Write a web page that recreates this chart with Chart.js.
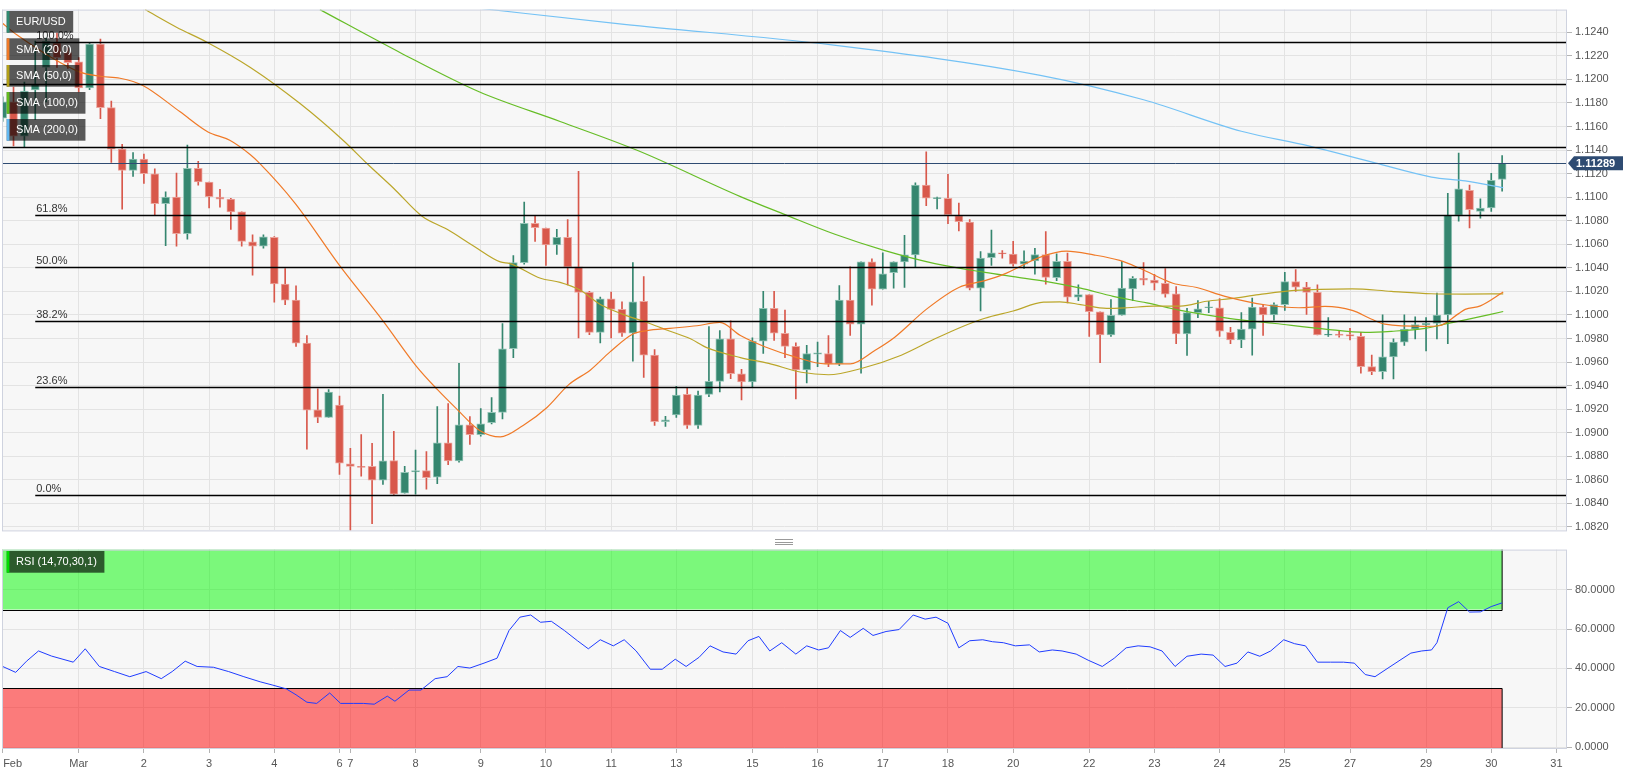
<!DOCTYPE html>
<html>
<head>
<meta charset="utf-8">
<script src="https://cdn.jsdelivr.net/npm/chart.js@4.4.0/dist/chart.umd.min.js"></script>
<style>
    html, body { margin: 0; padding: 0; background: #fff; }
    #wrap { position: relative; width: 1630px; height: 780px; overflow: hidden; }
    #main { position: absolute; left: 0; top: 0; }
    #rsi { position: absolute; left: 0; top: 540px; }
    .handle { position: absolute; left: 775px; top: 539px; width: 18px; height: 4px; border-top: 1px solid #9a9a9a; border-bottom: 1px solid #9a9a9a; }
    .handle::after { content: ''; position: absolute; left: 0; right: 0; top: 1.5px; border-top: 1px solid #9a9a9a; }
</style>
</head>
<body>
<div id="wrap">
    <canvas id="main" width="1630" height="540"></canvas>
    <div class="handle"></div>
    <canvas id="rsi" width="1630" height="240"></canvas>
</div>
<script>
// EUR/USD 4H candles (index 0 = Feb 27 Sunday candle)
const opens  = [1.11671,1.11810,1.11518,1.11910,1.12102,1.12310,1.12227,1.12149,1.11927,1.12301,1.11760,1.11408,1.11227,1.11324,1.11199,1.10944,1.11000,1.10691,1.11246,1.11129,1.11000,1.10983,1.10875,1.10621,1.10583,1.10658,1.10261,1.10125,1.09761,1.09194,1.09130,1.09234,1.08736,1.08714,1.08714,1.08597,1.08764,1.08486,1.08667,1.08678,1.08622,1.08914,1.08761,1.09067,1.08984,1.09084,1.09172,1.09713,1.10444,1.10777,1.10738,1.10594,1.10658,1.10408,1.10191,1.09852,1.10136,1.10047,1.09844,1.10116,1.09658,1.09094,1.09150,1.09325,1.09061,1.09325,1.09436,1.09797,1.09500,1.09430,1.09777,1.10055,1.09844,1.09733,1.09533,1.09667,1.09672,1.09583,1.10125,1.09922,1.10450,1.10219,1.10358,1.10450,1.10510,1.11102,1.10988,1.10991,1.10844,1.10788,1.10227,1.10486,1.10527,1.10516,1.10430,1.10458,1.10513,1.10316,1.10455,1.10150,1.10172,1.10027,1.09830,1.09997,1.10221,1.10311,1.10296,1.10269,1.10180,1.09838,1.10019,1.10061,1.10061,1.09852,1.09788,1.09880,1.10066,1.09999,1.10088,1.10283,1.10236,1.10191,1.09827,1.09838,1.09833,1.09819,1.09561,1.09519,1.09644,1.09769,1.09880,1.09917,1.09928,1.09999,1.10846,1.11058,1.10879,1.10908,1.11150];
const highs  = [1.11852,1.11935,1.11977,1.12326,1.12351,1.12393,1.12268,1.12185,1.12310,1.12343,1.11816,1.11449,1.11379,1.11366,1.11241,1.11046,1.11204,1.11443,1.11304,1.11129,1.11066,1.10991,1.10875,1.10680,1.10680,1.10666,1.10394,1.10247,1.09825,1.09372,1.09367,1.09311,1.08867,1.08984,1.08909,1.09325,1.09011,1.08714,1.08853,1.08839,1.09222,1.09247,1.09588,1.09136,1.09205,1.09297,1.09927,1.10505,1.10958,1.10844,1.10738,1.10727,1.10810,1.11219,1.10200,1.10152,1.10194,1.10111,1.10444,1.10325,1.09705,1.09139,1.09394,1.09380,1.09353,1.09900,1.09867,1.09950,1.09538,1.09805,1.10200,1.10200,1.10041,1.09763,1.09742,1.09769,1.09825,1.10250,1.10408,1.10450,1.10477,1.10527,1.10450,1.10677,1.11121,1.11385,1.11000,1.11194,1.10950,1.10810,1.10538,1.10721,1.10546,1.10625,1.10544,1.10566,1.10708,1.10519,1.10525,1.10255,1.10172,1.10027,1.10130,1.10455,1.10325,1.10444,1.10344,1.10394,1.10241,1.10055,1.10122,1.10116,1.10138,1.09894,1.10019,1.10144,1.10088,1.10102,1.10361,1.10386,1.10277,1.10255,1.09977,1.09861,1.09886,1.09852,1.09658,1.10000,1.09797,1.10000,1.09983,1.09977,1.10186,1.11033,1.11374,1.11102,1.10985,1.11202,1.11354];
const lows   = [1.11643,1.11435,1.11427,1.11660,1.11810,1.12102,1.12093,1.11893,1.11912,1.11666,1.11296,1.10899,1.11177,1.11116,1.10844,1.10588,1.10583,1.10644,1.11102,1.10908,1.10916,1.10727,1.10583,1.10338,1.10566,1.10108,1.10088,1.09733,1.08859,1.09084,1.09130,1.08645,1.08150,1.08630,1.08228,1.08561,1.08464,1.08486,1.08478,1.08520,1.08567,1.08728,1.08750,1.08900,1.08970,1.09075,1.09117,1.09638,1.10430,1.10625,1.10421,1.10513,1.10255,1.09805,1.09833,1.09763,1.09805,1.09817,1.09608,1.09469,1.09061,1.09053,1.09130,1.09036,1.09036,1.09305,1.09347,1.09459,1.09278,1.09386,1.09672,1.09783,1.09636,1.09286,1.09422,1.09561,1.09561,1.09570,1.09825,1.09505,1.10083,1.10219,1.10227,1.10233,1.10408,1.10927,1.10900,1.10775,1.10713,1.10213,1.10033,1.10421,1.10483,1.10413,1.10394,1.10346,1.10261,1.10291,1.10102,1.10122,1.09817,1.09594,1.09817,1.09997,1.10122,1.10255,1.10213,1.10150,1.09755,1.09656,1.09977,1.10019,1.09817,1.09755,1.09722,1.09658,1.09825,1.09955,1.10038,1.10200,1.10005,1.09830,1.09817,1.09811,1.09788,1.09505,1.09492,1.09457,1.09457,1.09742,1.09797,1.09694,1.09797,1.09755,1.10796,1.10738,1.10821,1.10879,1.11052];
const closes = [1.11810,1.11518,1.11902,1.11960,1.12326,1.12185,1.12143,1.11927,1.12301,1.11760,1.11408,1.11227,1.11324,1.11199,1.10944,1.11000,1.10691,1.11246,1.11129,1.11005,1.10983,1.10875,1.10625,1.10583,1.10663,1.10263,1.10125,1.09761,1.09192,1.09130,1.09344,1.08742,1.08714,1.08705,1.08597,1.08761,1.08478,1.08664,1.08678,1.08617,1.08914,1.08761,1.09067,1.08984,1.09075,1.09172,1.09713,1.10444,1.10777,1.10741,1.10594,1.10658,1.10408,1.10191,1.09852,1.10136,1.10047,1.09844,1.10111,1.09658,1.09094,1.09109,1.09319,1.09061,1.09319,1.09436,1.09797,1.09500,1.09430,1.09777,1.10055,1.09844,1.09733,1.09533,1.09672,1.09678,1.09583,1.10125,1.09922,1.10450,1.10219,1.10350,1.10450,1.10510,1.11102,1.10991,1.10996,1.10852,1.10791,1.10227,1.10483,1.10527,1.10519,1.10430,1.10458,1.10513,1.10319,1.10455,1.10150,1.10172,1.10027,1.09830,1.09997,1.10227,1.10311,1.10296,1.10269,1.10177,1.09838,1.10019,1.10052,1.10069,1.09861,1.09788,1.09880,1.10066,1.09999,1.10088,1.10283,1.10236,1.10191,1.09830,1.09838,1.09825,1.09819,1.09561,1.09519,1.09644,1.09769,1.09880,1.09917,1.09928,1.09999,1.10846,1.11071,1.10894,1.10908,1.11144,1.11289];

// moving averages, read at line vertices (x = candle index)
const sma20X  = [-0.2,1.3,7,9,10.8,12.9,16.3,18.9,20.9,22.8,23.7,26.9,31,35,38.1,40,41.8,43.9,45.8,47.9,50.1,52.1,54.1,55.9,58,59.3,61.4,63.9,66,67.9,70.2,72.9,75.7,78,80.3,82.1,85,88,90.4,92.1,95.5,97.9,100.4,102.8,104.7,107.7,109.9,112.5,116.3,119.3,121.7,124.2,126,127.2,130.9,132.2,134,134.6,136,138.1];
const sma20Y  = [1.12491,1.12379,1.12066,1.12027,1.12010,1.11949,1.11727,1.11554,1.11483,1.11360,1.11283,1.10950,1.10421,1.09950,1.09561,1.09367,1.09200,1.09019,1.08964,1.09061,1.09214,1.09408,1.09533,1.09686,1.09838,1.09867,1.09886,1.09908,1.09936,1.09825,1.09728,1.09644,1.09584,1.09584,1.09700,1.09811,1.10047,1.10233,1.10291,1.10344,1.10491,1.10541,1.10510,1.10463,1.10394,1.10269,1.10233,1.10158,1.10084,1.10061,1.10072,1.10038,1.09963,1.09922,1.09903,1.09908,1.10011,1.10047,1.10077,1.10194];
const sma50X  = [13.1,16,18.8,22.8,27.4,31.4,33.5,36,38.6,40.9,43.3,45.8,46.7,49.5,51.3,53.1,55,57.1,59.3,61.1,63.3,64.8,67.9,70.5,73.5,76,79.1,82.7,85.8,88.3,90.4,93,95.8,97.3,99.2,101.6,103.5,105.9,108.4,110.8,113,115.6,118.9,124.2,127.8,131.5,134.6,138.1];
const sma50Y  = [1.12593,1.12443,1.12316,1.12102,1.11793,1.11477,1.11288,1.11074,1.10838,1.10727,1.10588,1.10450,1.10436,1.10311,1.10277,1.10213,1.10088,1.10005,1.09936,1.09872,1.09797,1.09722,1.09638,1.09588,1.09513,1.09492,1.09547,1.09658,1.09797,1.09900,1.09972,1.10033,1.10108,1.10111,1.10088,1.10055,1.10061,1.10075,1.10075,1.10116,1.10138,1.10172,1.10208,1.10222,1.10200,1.10180,1.10177,1.10179];
const sma100X = [29.2,36.6,43.9,51.3,58.5,67.9,72,76.6,81.2,85.8,90.4,93,96.1,99.2,102.2,105.3,108.4,113,117.1,121.7,125.4,127.8,130.9,132.7,134.6,138.1];
const sma100Y = [1.12593,1.12227,1.11893,1.11643,1.11394,1.11005,1.10852,1.10685,1.10546,1.10436,1.10361,1.10325,1.10283,1.10227,1.10158,1.10102,1.10038,1.09969,1.09927,1.09880,1.09852,1.09861,1.09886,1.09922,1.09958,1.10029];
const sma200X = [43.3,57.2,76.3,95.5,105,114,120.2,126.3,131.5,134.6,138.1];
const sma200Y = [1.12610,1.12468,1.12293,1.12035,1.11827,1.11560,1.11435,1.11291,1.11171,1.11138,1.11081];

// RSI (14) read at line vertices
const rsiX = [0,1.2,2.2,3.3,4.5,6.5,7.6,8.9,10.3,11.7,13.2,14.6,15.6,16.8,17.9,19.4,20.8,22.2,23.7,24.8,26.1,27,28,28.9,30.1,31.1,32.3,33.2,34.2,35.4,36.1,37.4,38.5,39.8,40.9,41.9,43,44.3,45.5,46.6,47.6,48.6,49.5,50.5,51.7,52.9,53.9,55,56.2,57.2,58.3,59.6,60.7,61.9,62.9,64.1,65.1,66.3,67.5,68.6,69.6,70.6,71.7,73,74,75.1,76,77.1,78,79.2,80.1,81.3,82.5,83.8,84.9,85.9,87,88,89,90.2,91.1,92.1,93.2,94.5,95.4,96.6,97.5,98.8,99.9,101.2,102.3,103.4,104.5,105.6,106.7,107.9,109,110.3,111.4,112.5,113.6,114.6,115.7,116.7,117.9,118.9,119.9,121,122.2,123.4,124.4,125.4,126.3,127.5,128.6,129.6,130.6,131.5,132,133,134,135,136,137,138];
const rsiY = [41,38,43.7,48.9,46.3,43.2,50,41,38.4,35.8,38.4,34.8,38.4,43.7,41,40.6,38.4,35.8,33.2,31.6,29.6,26.6,22.8,22.2,27.5,22.2,22.2,22.2,21.8,25.9,23.3,29,29,34.8,35.8,41,40.2,42.7,45.2,59.3,66.1,67.2,63.5,64,59.3,54.1,50,54.6,51.5,54.6,48.9,39.6,39.6,44.7,41,45.7,51.5,48.4,47.3,54.1,56.3,48.9,53.1,47.3,51.5,49.4,50.5,59.3,55.8,60.4,56.8,58.8,59.8,67.2,65.1,66.1,63,50.5,54.1,54.6,53.6,53.1,51.5,52,48.4,49.4,48.9,47.3,44.2,41,45.2,50.5,51.5,51,48.9,41,46.2,47.3,46.8,41,42.7,48.4,46.2,48.9,54.6,52.6,51.5,43.2,43.2,43.2,42.7,36.9,35.8,40.2,44.2,47.8,48.9,49.4,53.1,70.9,74,68.7,68.8,71.5,73.4];

// axis ticks
const dayTicks  = [0,7,13,19,25,31,32,38,44,50,56,62,69,75,81,87,93,100,106,112,118,124,131,137,143];
const dayLabels = ['Feb','Mar','2','3','4','6','7','8','9','10','11','13','15','16','17','18','20','22','23','24','25','27','29','30','31'];
const priceTicks = [1.082,1.084,1.086,1.088,1.090,1.092,1.094,1.096,1.098,1.100,1.102,1.104,1.106,1.108,1.110,1.112,1.114,1.116,1.118,1.120,1.122,1.124];
const rsiTicks = [0,20,40,60,80];

// fibonacci retracement + horizontal levels
const fibLevels = [1.12321,1.10850,1.10403,1.09945,1.09387,1.08468];
const fibLabels = ['100.0%','61.8%','50.0%','38.2%','23.6%','0.0%'];
const fibStart = 3;
const hLevels = [1.11958,1.11425];

const FONT = "'Liberation Sans', Arial, sans-serif";
const X_MIN = -0.06, X_MAX = 143.97;
const UP = '#35866f', DOWN = '#d8584b';
const last = closes.length - 1;
const isUp = closes.map((c, i) => c >= opens[i]);

const bgPlugin = {
    id: 'bg',
    beforeDraw(chart) {
        const {ctx, chartArea: a} = chart;
        ctx.save();
        ctx.fillStyle = '#f7f7f7';
        ctx.fillRect(a.left, a.top, a.right - a.left, a.bottom - a.top);
        ctx.restore();
    },
    afterDraw(chart) {
        const {ctx, chartArea: a} = chart;
        ctx.save();
        ctx.strokeStyle = '#cfd3df';
        ctx.lineWidth = 1;
        ctx.strokeRect(a.left + 0.5, a.top + 0.5, a.right - a.left - 1, a.bottom - a.top);
        ctx.restore();
    }
};

function drawTag(ctx, x, y, text, stripe) {
    ctx.font = '11px ' + FONT;
    const w = ctx.measureText(text).width + 17;
    const h = 21.7;
    ctx.fillStyle = 'rgba(0,0,0,0.64)';
    ctx.fillRect(x, y, w, h);
    ctx.fillStyle = stripe;
    ctx.fillRect(x, y, 2.7, h);
    ctx.fillStyle = '#fff';
    ctx.textBaseline = 'middle';
    ctx.textAlign = 'left';
    ctx.fillText(text, x + 9.4, y + h / 2 + 0.5);
}

const mainDeco = {
    id: 'mainDeco',
    afterDatasetsDraw(chart) {
        const {ctx, chartArea: a, scales: {x, y}} = chart;
        ctx.save();
        ctx.beginPath();
        ctx.rect(a.left, a.top, a.right - a.left, a.bottom - a.top);
        ctx.clip();
        ctx.strokeStyle = '#000';
        ctx.lineWidth = 1.3;
        hLevels.forEach(v => {
            const py = Math.round(y.getPixelForValue(v)) + 0.5;
            ctx.beginPath(); ctx.moveTo(a.left, py); ctx.lineTo(a.right, py); ctx.stroke();
        });
        const fx = x.getPixelForValue(fibStart);
        ctx.font = '11px ' + FONT;
        ctx.textBaseline = 'bottom';
        fibLevels.forEach((v, k) => {
            const py = Math.round(y.getPixelForValue(v)) + 0.5;
            ctx.strokeStyle = '#000';
            ctx.beginPath(); ctx.moveTo(fx, py); ctx.lineTo(a.right, py); ctx.stroke();
            ctx.fillStyle = '#333';
            ctx.fillText(fibLabels[k], fx + 1, py - 1.5);
        });
        // last price line
        const lp = Math.round(y.getPixelForValue(closes[last])) + 0.5;
        ctx.strokeStyle = '#2e4b72';
        ctx.lineWidth = 1;
        ctx.beginPath(); ctx.moveTo(a.left, lp); ctx.lineTo(a.right, lp); ctx.stroke();
        ctx.restore();
    },
    afterDraw(chart) {
        const {ctx, chartArea: a, scales: {y}} = chart;
        ctx.save();
        const lp = y.getPixelForValue(closes[last]);
        ctx.fillStyle = '#2e4b72';
        ctx.beginPath();
        ctx.moveTo(a.right + 1, lp);
        ctx.lineTo(a.right + 7, lp - 7);
        ctx.lineTo(a.right + 56, lp - 7);
        ctx.lineTo(a.right + 56, lp + 7);
        ctx.lineTo(a.right + 7, lp + 7);
        ctx.closePath();
        ctx.fill();
        ctx.fillStyle = '#fff';
        ctx.font = 'bold 11px ' + FONT;
        ctx.textBaseline = 'middle';
        ctx.fillText(closes[last].toFixed(5), a.right + 9, lp + 0.5);

        drawTag(ctx, 6.7, 11, 'EUR/USD', '#2f8a72');
        drawTag(ctx, 6.7, 38.3, 'SMA (20,0)', '#f07a28');
        drawTag(ctx, 6.7, 65, 'SMA (50,0)', '#b3a018');
        drawTag(ctx, 6.7, 92, 'SMA (100,0)', '#62bb1e');
        drawTag(ctx, 6.7, 119, 'SMA (200,0)', '#62b8f2');
        ctx.restore();
    }
};

const rsiDeco = {
    id: 'rsiDeco',
    beforeDatasetsDraw(chart) {
        const {ctx, chartArea: a, scales: {x, y}} = chart;
        const xr = x.getPixelForValue(last);
        const y100 = y.getPixelForValue(100.5), y70 = y.getPixelForValue(70);
        const y30 = y.getPixelForValue(30), y0 = y.getPixelForValue(-0.5);
        ctx.save();
        ctx.fillStyle = 'rgba(0,250,0,0.5)';
        ctx.fillRect(a.left, y100, xr - a.left, y70 - y100);
        ctx.fillStyle = 'rgba(255,0,0,0.5)';
        ctx.fillRect(a.left, y30, xr - a.left, y0 - y30);
        ctx.strokeStyle = '#000';
        ctx.lineWidth = 1;
        ctx.beginPath();
        ctx.moveTo(a.left, Math.round(y70) + 0.5); ctx.lineTo(xr, Math.round(y70) + 0.5); ctx.lineTo(xr, y100);
        ctx.moveTo(a.left, Math.round(y30) + 0.5); ctx.lineTo(xr, Math.round(y30) + 0.5); ctx.lineTo(xr, y0);
        ctx.stroke();
        ctx.restore();
    },
    afterDraw(chart) {
        const {ctx, chartArea: a, scales: {x}} = chart;
        ctx.save();
        drawTag(ctx, 6.7, 11, 'RSI (14,70,30,1)', '#00dd00');
        // first day label sits to the right of its tick (the left edge)
        ctx.font = '11px ' + FONT;
        ctx.fillStyle = '#555';
        ctx.textAlign = 'left';
        ctx.textBaseline = 'middle';
        ctx.fillText(dayLabels[0], x.getPixelForValue(dayTicks[0]) + 0.5, a.bottom + 15.5);
        ctx.restore();
    }
};

const smaLine = (xs, ys, color) => ({
    type: 'line',
    data: xs.map((v, k) => ({x: v, y: ys[k]})),
    borderColor: color,
    borderWidth: 1.2,
    pointRadius: 0,
    cubicInterpolationMode: 'monotone',
    fill: false
});

const xGrid = {color: '#e3e3e3', offset: false};
const noSidePad = s => { s.paddingLeft = 0; s.paddingRight = 0; };

new Chart(document.getElementById('main'), {
    type: 'bar',
    data: {
        datasets: [
            smaLine(sma20X, sma20Y, '#f07a28'),
            smaLine(sma50X, sma50Y, '#bba62a'),
            smaLine(sma100X, sma100Y, '#66bd26'),
            smaLine(sma200X, sma200Y, '#74c2f5'),
            {
                type: 'bar',
                data: opens.map((o, i) => ({x: i, y: [o, closes[i]]})),
                backgroundColor: isUp.map(u => u ? UP : DOWN),
                borderColor: isUp.map(u => u ? '#93c4b6' : '#eba59d'),
                borderWidth: 1,
                borderSkipped: false,
                barThickness: 8,
                minBarLength: 1,
                grouped: false
            },
            {
                type: 'bar',
                data: lows.map((l, i) => ({x: i, y: [l, highs[i]]})),
                backgroundColor: isUp.map(u => u ? UP : DOWN),
                barThickness: 1,
                grouped: false
            }
        ]
    },
    options: {
        responsive: false,
        animation: false,
        events: [],
        layout: {padding: {left: 2, top: 6, right: 0, bottom: 3}},
        plugins: {legend: {display: false}, tooltip: {enabled: false}},
        scales: {
            x: {
                type: 'linear', min: X_MIN, max: X_MAX, offset: false,
                grid: {...xGrid, drawTicks: false},
                border: {display: false},
                ticks: {display: false},
                afterBuildTicks: s => { s.ticks = dayTicks.map(v => ({value: v})); },
                afterFit: s => { s.height = 0; noSidePad(s); }
            },
            y: {
                position: 'right', min: 1.0817, max: 1.12593,
                grid: {color: '#e3e3e3', tickLength: 5, tickColor: '#b4b4b4'},
                border: {display: false},
                ticks: {color: '#555', padding: 3, font: {size: 11, family: FONT}, callback: v => v.toFixed(4)},
                afterBuildTicks: s => { s.ticks = priceTicks.map(v => ({value: v})); },
                afterFit: s => { s.width = 63; }
            }
        }
    },
    plugins: [bgPlugin, mainDeco]
});

new Chart(document.getElementById('rsi'), {
    type: 'line',
    data: {
        datasets: [{
            data: rsiX.map((v, k) => ({x: v, y: rsiY[k]})),
            borderColor: '#1f3cff',
            borderWidth: 1,
            pointRadius: 0,
            fill: false
        }]
    },
    options: {
        responsive: false,
        animation: false,
        events: [],
        layout: {padding: {left: 2, top: 7, right: 0, bottom: 0}},
        plugins: {legend: {display: false}, tooltip: {enabled: false}},
        scales: {
            x: {
                type: 'linear', min: X_MIN, max: X_MAX, offset: false,
                grid: {...xGrid, tickLength: 5, tickColor: '#b4b4b4'},
                border: {display: false},
                ticks: {color: '#555', padding: 4, maxRotation: 0, autoSkip: false, font: {size: 11, family: FONT},
                        callback: (v, k) => k === 0 ? '' : dayLabels[k]},
                afterBuildTicks: s => { s.ticks = dayTicks.map(v => ({value: v})); },
                afterFit: s => { s.height = 32; noSidePad(s); }
            },
            y: {
                position: 'right', min: -0.5, max: 100.5,
                grid: {color: '#e3e3e3', tickLength: 5, tickColor: '#b4b4b4'},
                border: {display: false},
                ticks: {color: '#555', padding: 3, font: {size: 11, family: FONT}, callback: v => v.toFixed(4)},
                afterBuildTicks: s => { s.ticks = rsiTicks.map(v => ({value: v})); },
                afterFit: s => { s.width = 63; }
            }
        }
    },
    plugins: [bgPlugin, rsiDeco]
});
</script>
</body>
</html>
